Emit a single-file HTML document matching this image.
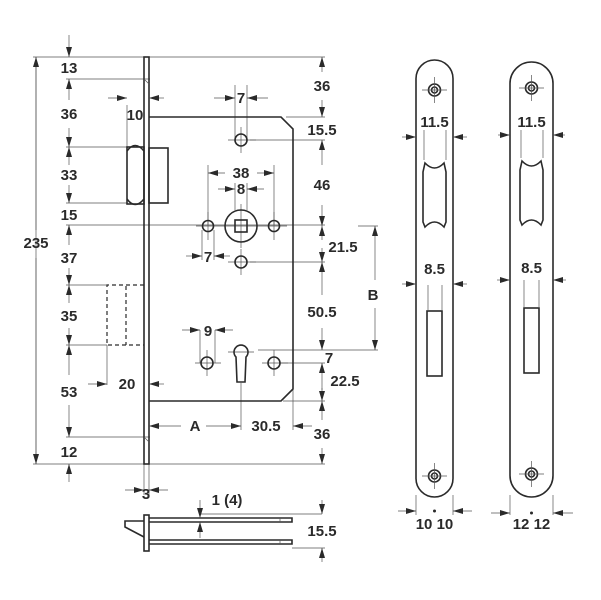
<!DOCTYPE html>
<html><head><meta charset="utf-8"><style>
html,body{margin:0;padding:0;background:#fff}
svg{display:block}
text{font-family:"Liberation Sans",sans-serif;font-weight:bold;font-size:15px;fill:#2a2a2a}
.o{fill:none;stroke:#2a2a2a;stroke-width:1.6}
.t{fill:none;stroke:#555;stroke-width:0.7}
.d{fill:none;stroke:#2a2a2a;stroke-width:1.2;stroke-dasharray:4 3}
</style></head><body>
<svg width="601" height="600" viewBox="0 0 601 600" xmlns="http://www.w3.org/2000/svg">
<defs>
<marker id="a" viewBox="0 0 10 6" refX="10" refY="3" markerWidth="10" markerHeight="6" orient="auto-start-reverse" markerUnits="userSpaceOnUse"><path d="M0,0 L10,3 L0,6 z" fill="#2a2a2a"/></marker>
</defs>
<g class="t">
<line x1="33" y1="57" x2="325" y2="57"/>
<line x1="66" y1="79" x2="150" y2="79"/>
<line x1="66" y1="147" x2="127" y2="147"/>
<line x1="66" y1="203" x2="127" y2="203"/>
<line x1="66" y1="225" x2="325" y2="225"/>
<line x1="66" y1="285" x2="107" y2="285"/>
<line x1="66" y1="345" x2="107" y2="345"/>
<line x1="66" y1="437" x2="150" y2="437"/>
<line x1="33" y1="464" x2="325" y2="464"/>
<line x1="286" y1="117" x2="325" y2="117"/>
<line x1="250" y1="140" x2="325" y2="140"/>
<line x1="250" y1="262" x2="325" y2="262"/>
<line x1="258" y1="350" x2="378" y2="350"/>
<line x1="280" y1="363" x2="325" y2="363"/>
<line x1="283" y1="401" x2="325" y2="401"/>
<line x1="293" y1="390" x2="293" y2="430"/>
<line x1="241" y1="383" x2="241" y2="430"/>
<line x1="107" y1="345" x2="107" y2="385"/>
<line x1="127" y1="105" x2="127" y2="147"/>
<line x1="149" y1="105" x2="149" y2="117"/>
<line x1="144" y1="464" x2="144" y2="495"/>
<line x1="149" y1="464" x2="149" y2="495"/>
<line x1="235" y1="85" x2="235" y2="140"/><line x1="247" y1="85" x2="247" y2="140"/>
<line x1="208" y1="165" x2="208" y2="225"/><line x1="274" y1="165" x2="274" y2="225"/>
<line x1="235" y1="183" x2="235" y2="210"/><line x1="247" y1="183" x2="247" y2="210"/>
<line x1="202" y1="230" x2="202" y2="260"/><line x1="214" y1="230" x2="214" y2="260"/>
<line x1="200" y1="330" x2="200" y2="363"/><line x1="215" y1="330" x2="215" y2="363"/>
<line x1="36" y1="57" x2="36" y2="464"/>
</g>
<g class="t">
<line x1="228" y1="140" x2="256" y2="140"/><line x1="241" y1="127" x2="241" y2="153"/>
<line x1="196" y1="226" x2="287" y2="226"/><line x1="241" y1="204" x2="241" y2="248"/>
<line x1="208" y1="212" x2="208" y2="240"/><line x1="274" y1="212" x2="274" y2="240"/>
<line x1="228" y1="262" x2="256" y2="262"/><line x1="241" y1="249" x2="241" y2="275"/>
<line x1="195" y1="363" x2="221" y2="363"/><line x1="207" y1="350" x2="207" y2="376"/>
<line x1="262" y1="363" x2="288" y2="363"/><line x1="274" y1="350" x2="274" y2="376"/>
<line x1="228" y1="352" x2="254" y2="352"/>
</g>
<rect class="o" x="144" y="57" width="5" height="407"/>
<path class="o" d="M149,117 L281,117 L293,129 L293,389 L281,401 L149,401"/>
<path class="t" d="M144,79 L149,84 M144,437 L149,442"/>
<rect class="o" x="127" y="147" width="17" height="57"/>
<path class="o" d="M127,151 Q135,140 144,151 M127,199 Q135,210 144,199"/>
<rect class="o" x="149" y="148" width="19" height="55"/>
<path class="d" d="M144,285 L107,285 L107,345 L144,345 M126,286 L126,345"/>
<circle class="o" cx="241" cy="140" r="6"/>
<circle class="o" cx="241" cy="226" r="16"/>
<rect class="o" x="235" y="220" width="12" height="12"/>
<circle class="o" cx="208" cy="226" r="5.5"/>
<circle class="o" cx="274" cy="226" r="5.5"/>
<circle class="o" cx="241" cy="262" r="6"/>
<circle class="o" cx="207" cy="363" r="6"/>
<circle class="o" cx="274" cy="363" r="6"/>
<path class="o" d="M236,357 A7,7 0 1 1 246,357 L245,382 L237,382 Z"/>
<g class="t" stroke="#2a2a2a">
<line x1="69" y1="35" x2="69" y2="57" marker-end="url(#a)"/>
<line x1="69" y1="100" x2="69" y2="79" marker-end="url(#a)"/>
<line x1="69" y1="128" x2="69" y2="147" marker-end="url(#a)"/>
<line x1="69" y1="165" x2="69" y2="147" marker-end="url(#a)"/>
<line x1="69" y1="185" x2="69" y2="203" marker-end="url(#a)"/>
<line x1="69" y1="245" x2="69" y2="225" marker-end="url(#a)"/>
<line x1="69" y1="268" x2="69" y2="285" marker-end="url(#a)"/>
<line x1="69" y1="303" x2="69" y2="285" marker-end="url(#a)"/>
<line x1="69" y1="328" x2="69" y2="345" marker-end="url(#a)"/>
<line x1="69" y1="375" x2="69" y2="345" marker-end="url(#a)"/>
<line x1="69" y1="405" x2="69" y2="437" marker-end="url(#a)"/>
<line x1="69" y1="482" x2="69" y2="464" marker-end="url(#a)"/>
<line x1="36" y1="230" x2="36" y2="57" marker-end="url(#a)"/>
<line x1="36" y1="258" x2="36" y2="464" marker-end="url(#a)"/>
<line x1="108" y1="98" x2="127" y2="98" marker-end="url(#a)"/>
<line x1="164" y1="98" x2="149" y2="98" marker-end="url(#a)"/>
<line x1="88" y1="384" x2="107" y2="384" marker-end="url(#a)"/>
<line x1="164" y1="384" x2="149" y2="384" marker-end="url(#a)"/>
<line x1="125" y1="490" x2="144" y2="490" marker-end="url(#a)"/>
<line x1="168" y1="490" x2="149" y2="490" marker-end="url(#a)"/>
<line x1="181" y1="426" x2="149" y2="426" marker-end="url(#a)"/>
<line x1="206" y1="426" x2="241" y2="426" marker-end="url(#a)"/>
<line x1="312" y1="426" x2="293" y2="426" marker-end="url(#a)"/>
<line x1="214" y1="98" x2="235" y2="98" marker-end="url(#a)"/>
<line x1="268" y1="98" x2="247" y2="98" marker-end="url(#a)"/>
<line x1="225" y1="173" x2="208" y2="173" marker-end="url(#a)"/>
<line x1="257" y1="173" x2="274" y2="173" marker-end="url(#a)"/>
<line x1="218" y1="189" x2="235" y2="189" marker-end="url(#a)"/>
<line x1="264" y1="189" x2="247" y2="189" marker-end="url(#a)"/>
<line x1="186" y1="256" x2="202" y2="256" marker-end="url(#a)"/>
<line x1="230" y1="256" x2="214" y2="256" marker-end="url(#a)"/>
<line x1="182" y1="330" x2="200" y2="330" marker-end="url(#a)"/>
<line x1="233" y1="330" x2="215" y2="330" marker-end="url(#a)"/>
<line x1="322" y1="72" x2="322" y2="57" marker-end="url(#a)"/>
<line x1="322" y1="100" x2="322" y2="117" marker-end="url(#a)"/>
<line x1="322" y1="165" x2="322" y2="140" marker-end="url(#a)"/>
<line x1="322" y1="205" x2="322" y2="226" marker-end="url(#a)"/>
<line x1="322" y1="240" x2="322" y2="226" marker-end="url(#a)"/>
<line x1="322" y1="248" x2="322" y2="262" marker-end="url(#a)"/>
<line x1="322" y1="295" x2="322" y2="262" marker-end="url(#a)"/>
<line x1="322" y1="328" x2="322" y2="350" marker-end="url(#a)"/>
<line x1="322" y1="390" x2="322" y2="363" marker-end="url(#a)"/>
<line x1="322" y1="388" x2="322" y2="401" marker-end="url(#a)"/>
<line x1="322" y1="420" x2="322" y2="401" marker-end="url(#a)"/>
<line x1="322" y1="448" x2="322" y2="464" marker-end="url(#a)"/>
<line x1="375" y1="280" x2="375" y2="226" marker-end="url(#a)"/>
<line x1="375" y1="308" x2="375" y2="350" marker-end="url(#a)"/>
<line x1="358" y1="226" x2="378" y2="226"/>
</g>
<text x="69" y="73" text-anchor="middle">13</text>
<text x="69" y="119" text-anchor="middle">36</text>
<text x="69" y="180" text-anchor="middle">33</text>
<text x="69" y="220" text-anchor="middle">15</text>
<text x="69" y="263" text-anchor="middle">37</text>
<text x="69" y="321" text-anchor="middle">35</text>
<text x="69" y="397" text-anchor="middle">53</text>
<text x="69" y="457" text-anchor="middle">12</text>
<text x="36" y="248" text-anchor="middle">235</text>
<text x="135" y="120" text-anchor="middle">10</text>
<text x="127" y="389" text-anchor="middle">20</text>
<text x="146" y="499" text-anchor="middle">3</text>
<text x="195" y="431" text-anchor="middle">A</text>
<text x="266" y="431" text-anchor="middle">30.5</text>
<text x="241" y="103" text-anchor="middle">7</text>
<text x="241" y="178" text-anchor="middle">38</text>
<text x="241" y="194" text-anchor="middle">8</text>
<text x="208" y="262" text-anchor="middle">7</text>
<text x="208" y="336" text-anchor="middle">9</text>
<text x="322" y="91" text-anchor="middle">36</text>
<text x="322" y="135" text-anchor="middle">15.5</text>
<text x="322" y="190" text-anchor="middle">46</text>
<text x="343" y="252" text-anchor="middle">21.5</text>
<text x="322" y="317" text-anchor="middle">50.5</text>
<text x="329" y="363" text-anchor="middle">7</text>
<text x="345" y="386" text-anchor="middle">22.5</text>
<text x="322" y="439" text-anchor="middle">36</text>
<text x="373" y="300" text-anchor="middle">B</text>
<rect class="o" x="144" y="515" width="5" height="36"/>
<path class="o" d="M149,518 L292,518 L292,522 L149,522 M149,540 L292,540 L292,544 L149,544"/>
<path class="t" d="M280,518 L280,522 M280,540 L280,544"/>
<path class="o" d="M144,521 L125,521 L125,527 L144,537"/>
<line class="t" x1="200" y1="514" x2="322" y2="514"/>
<line class="t" x1="292" y1="548" x2="325" y2="548"/>
<g class="t" stroke="#2a2a2a">
<line x1="200" y1="500" x2="200" y2="518" marker-end="url(#a)"/>
<line x1="200" y1="538" x2="200" y2="522" marker-end="url(#a)"/>
<line x1="322" y1="500" x2="322" y2="514" marker-end="url(#a)"/>
<line x1="322" y1="562" x2="322" y2="548" marker-end="url(#a)"/>
</g>
<text x="227" y="505" text-anchor="middle">1 (4)</text>
<text x="322" y="536" text-anchor="middle">15.5</text>
<rect class="o" x="416" y="60" width="37" height="437" rx="18.5"/>
<circle class="o" cx="434.5" cy="90" r="6"/><circle class="o" cx="434.5" cy="90" r="3"/>
<circle class="o" cx="434.5" cy="476" r="6"/><circle class="o" cx="434.5" cy="476" r="3"/>
<path class="t" d="M422,90 H447 M434.5,77 V103 M422,476 H447 M434.5,463 V489"/>
<path class="o" d="M425,163 Q434.5,173 444,163 L446,172 L446,222 L444,227 Q434.5,217 425,227 L423,222 L423,172 Z"/>
<rect class="o" x="427" y="311" width="15" height="65"/>
<g class="t" stroke="#2a2a2a">
<line x1="424" y1="130" x2="424" y2="160"/><line x1="446" y1="130" x2="446" y2="160"/>
<line x1="428" y1="285" x2="428" y2="310"/><line x1="442" y1="285" x2="442" y2="310"/>
<line x1="416" y1="495" x2="416" y2="515"/><line x1="453" y1="495" x2="453" y2="515"/>
<line x1="402" y1="137" x2="416" y2="137" marker-end="url(#a)"/>
<line x1="467" y1="137" x2="453" y2="137" marker-end="url(#a)"/>
<line x1="402" y1="284" x2="416" y2="284" marker-end="url(#a)"/>
<line x1="467" y1="284" x2="453" y2="284" marker-end="url(#a)"/>
<line x1="398" y1="511" x2="416" y2="511" marker-end="url(#a)"/>
<line x1="472" y1="511" x2="453" y2="511" marker-end="url(#a)"/>
</g>
<circle cx="434.5" cy="511" r="1.5" fill="#2a2a2a"/>
<text x="434.5" y="127" text-anchor="middle">11.5</text>
<text x="434.5" y="274" text-anchor="middle">8.5</text>
<text x="434.5" y="529" text-anchor="middle">10 10</text>
<rect class="o" x="510" y="62" width="43" height="435" rx="21.5"/>
<circle class="o" cx="531.5" cy="88" r="6"/><circle class="o" cx="531.5" cy="88" r="3"/>
<circle class="o" cx="531.5" cy="474" r="6"/><circle class="o" cx="531.5" cy="474" r="3"/>
<path class="t" d="M519,88 H544 M531.5,75 V101 M519,474 H544 M531.5,461 V487"/>
<path class="o" d="M522,161 Q531.5,171 541,161 L543,170 L543,220 L541,225 Q531.5,215 522,225 L520,220 L520,170 Z"/>
<rect class="o" x="524" y="308" width="15" height="65"/>
<g class="t" stroke="#2a2a2a">
<line x1="521" y1="130" x2="521" y2="158"/><line x1="543" y1="130" x2="543" y2="158"/>
<line x1="524" y1="280" x2="524" y2="307"/><line x1="539" y1="280" x2="539" y2="307"/>
<line x1="510" y1="495" x2="510" y2="515"/><line x1="553" y1="495" x2="553" y2="515"/>
<line x1="498" y1="135" x2="510" y2="135" marker-end="url(#a)"/>
<line x1="565" y1="135" x2="553" y2="135" marker-end="url(#a)"/>
<line x1="497" y1="280" x2="510" y2="280" marker-end="url(#a)"/>
<line x1="566" y1="280" x2="553" y2="280" marker-end="url(#a)"/>
<line x1="491" y1="513" x2="510" y2="513" marker-end="url(#a)"/>
<line x1="573" y1="513" x2="553" y2="513" marker-end="url(#a)"/>
</g>
<circle cx="531.5" cy="513" r="1.5" fill="#2a2a2a"/>
<text x="531.5" y="127" text-anchor="middle">11.5</text>
<text x="531.5" y="273" text-anchor="middle">8.5</text>
<text x="531.5" y="529" text-anchor="middle">12 12</text>
</svg>
</body></html>
